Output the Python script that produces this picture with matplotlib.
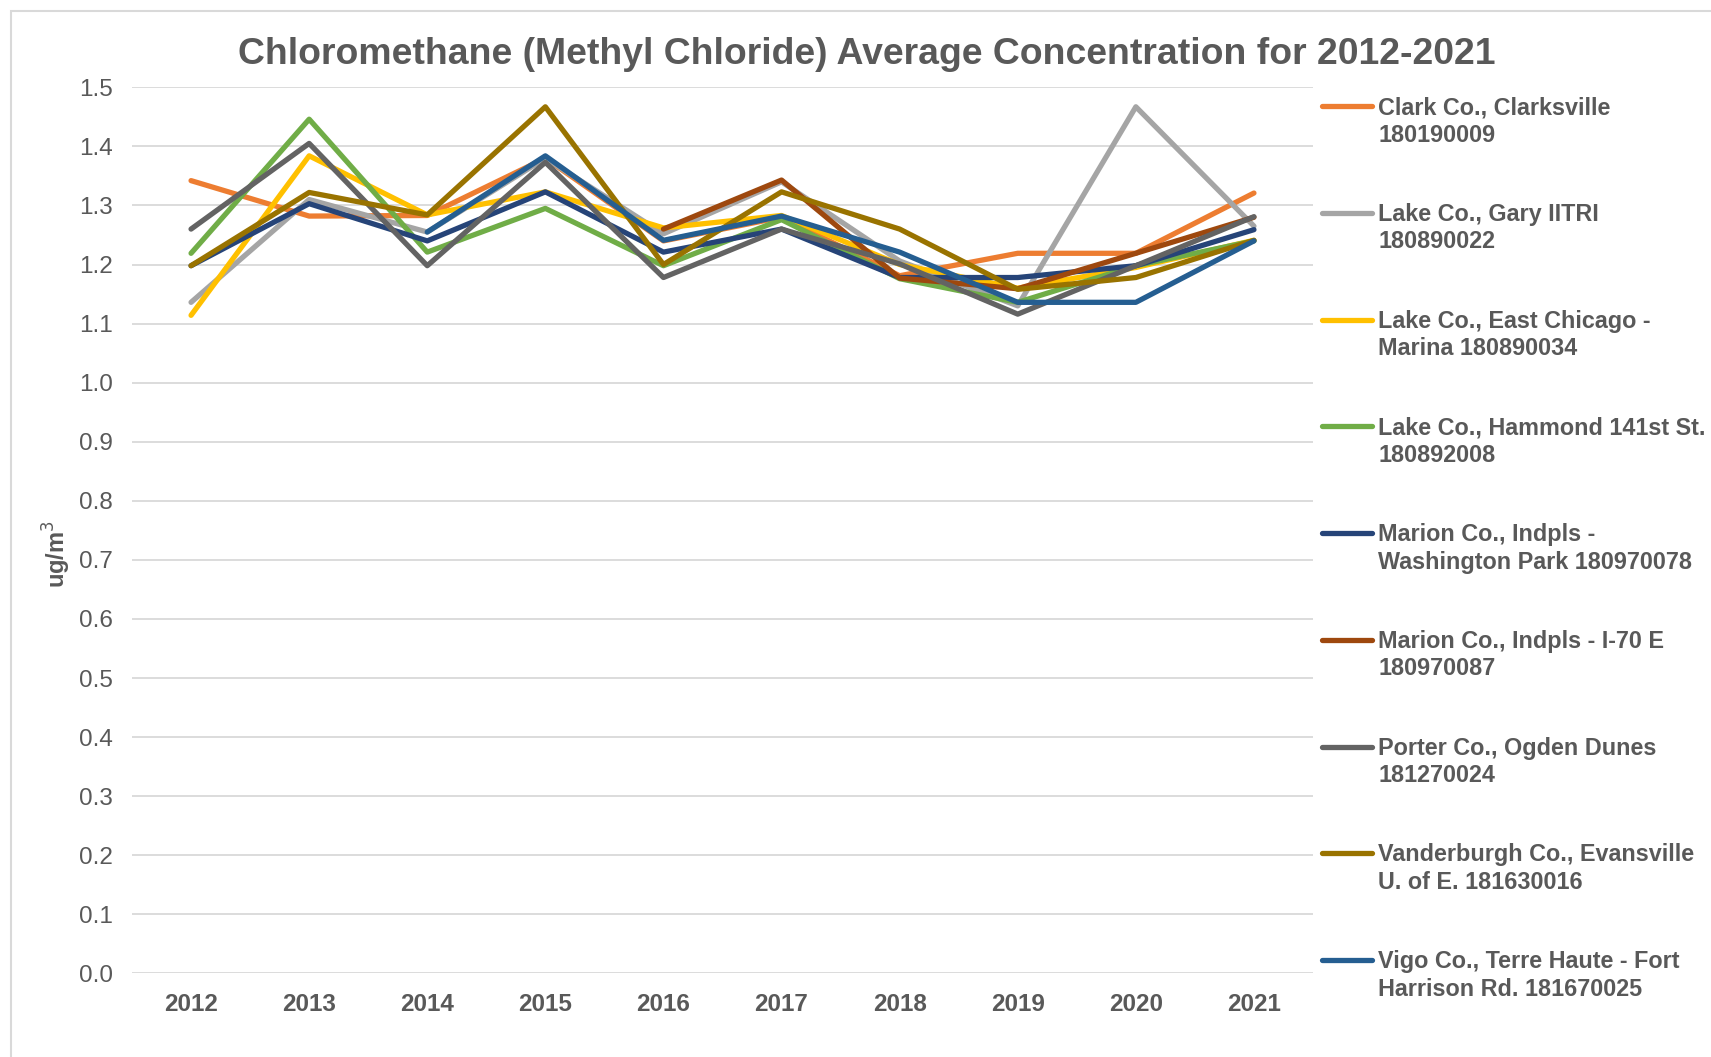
import numpy as np
import matplotlib
matplotlib.use("Agg")
import matplotlib.pyplot as plt
from matplotlib.lines import Line2D
from matplotlib.patches import Rectangle

plt.rcParams['font.family'] = ['Liberation Sans', 'DejaVu Sans']

years = ['2012', '2013', '2014', '2015', '2016', '2017', '2018', '2019', '2020', '2021']
nan = np.nan

clark = [1.342, 1.282, 1.283, 1.380, 1.240, 1.280, 1.181, 1.219, 1.219, 1.321]
gary = [1.136, 1.310, 1.255, 1.380, 1.252, 1.340, 1.206, 1.130, 1.467, 1.265]
east_chicago = [1.114, 1.384, 1.284, 1.323, 1.262, 1.283, 1.200, 1.160, 1.195, 1.241]
hammond = [1.219, 1.446, 1.221, 1.295, 1.198, 1.276, 1.176, 1.136, 1.198, 1.240]
washington_park = [1.198, 1.303, 1.240, 1.323, 1.221, 1.260, 1.178, 1.178, 1.198, 1.259]
i70 = [nan, nan, nan, nan, 1.260, 1.343, 1.177, 1.159, 1.219, 1.280]
ogden_dunes = [1.260, 1.405, 1.198, 1.373, 1.178, 1.260, 1.201, 1.116, 1.198, 1.281]
evansville = [1.198, 1.322, 1.284, 1.467, 1.200, 1.323, 1.260, 1.158, 1.178, 1.241]
terre_haute = [nan, nan, 1.255, 1.384, 1.241, 1.282, 1.221, 1.136, 1.136, 1.240]

series = [clark, gary, east_chicago, hammond, washington_park, i70,
          ogden_dunes, evansville, terre_haute]
labels = ['Clark Co., Clarksville\n180190009',
          'Lake Co., Gary IITRI\n180890022',
          'Lake Co., East Chicago -\nMarina 180890034',
          'Lake Co., Hammond 141st St.\n180892008',
          'Marion Co., Indpls -\nWashington Park 180970078',
          'Marion Co., Indpls - I-70 E\n180970087',
          'Porter Co., Ogden Dunes\n181270024',
          'Vanderburgh Co., Evansville\nU. of E. 181630016',
          'Vigo Co., Terre Haute - Fort\nHarrison Rd. 181670025']
colors = ['#ED7D31', '#A5A5A5', '#FFC000', '#70AD47', '#264478', '#9E480E',
          '#636363', '#997300', '#255E91']

W, H = 1711, 1057
txt = '#595959'

fig = plt.figure(figsize=(W / 100, H / 100), dpi=100)
ax = fig.add_axes([132 / W, 1 - 973.4 / H, (1313 - 132) / W, (973.4 - 87.3) / H])

x = np.arange(len(years))
for vals, c in zip(series, colors):
    ax.plot(x, vals, color=c, lw=3.8, solid_capstyle='round', solid_joinstyle='round')

ax.set_xlim(-0.5, len(years) - 0.5)
ax.set_ylim(0, 1.5)
ax.set_yticks(np.arange(0, 1.51, 0.1))
ax.set_yticklabels(['%.1f' % v for v in np.arange(0, 1.51, 0.1)])
ax.set_xticks(x)
ax.set_xticklabels(years, fontweight='bold')
ax.tick_params(axis='y', length=0, pad=14, labelsize=17.5, labelcolor=txt)
ax.tick_params(axis='x', length=0, pad=14, labelsize=17.5, labelcolor=txt)
ax.grid(axis='y', color='#D9D9D9', lw=1.3)
ax.set_axisbelow(True)
for s in ax.spines.values():
    s.set_visible(False)

fig.text(57 / W, 1 - 554 / H, 'ug/m$^3$', rotation=90, ha='center', va='center',
         fontsize=17, fontweight='bold', color=txt)
fig.text(867 / W, 1 - 54 / H, 'Chloromethane (Methyl Chloride) Average Concentration for 2012-2021',
         ha='center', va='center', fontsize=26.9, fontweight='bold', color=txt)

# legend drawn by hand so the swatch sits on the first text line
for i, (lab, c) in enumerate(zip(labels, colors)):
    yy = 1 - (106 + i * 106.75) / H
    fig.add_artist(Line2D([1322 / W, 1372 / W], [yy, yy], color=c, lw=3.8,
                          solid_capstyle='round', transform=fig.transFigure))
    fig.text(1378 / W, yy + 10 / H, lab, ha='left', va='top', fontsize=16.8,
             fontweight='bold', color=txt, linespacing=1.25)

fig.add_artist(Rectangle((11 / W, -0.1), 2, 1 - 11 / H + 0.1, fill=False,
                         ec='#D9D9D9', lw=1.5, transform=fig.transFigure))

fig.savefig('out.png', dpi=100)
